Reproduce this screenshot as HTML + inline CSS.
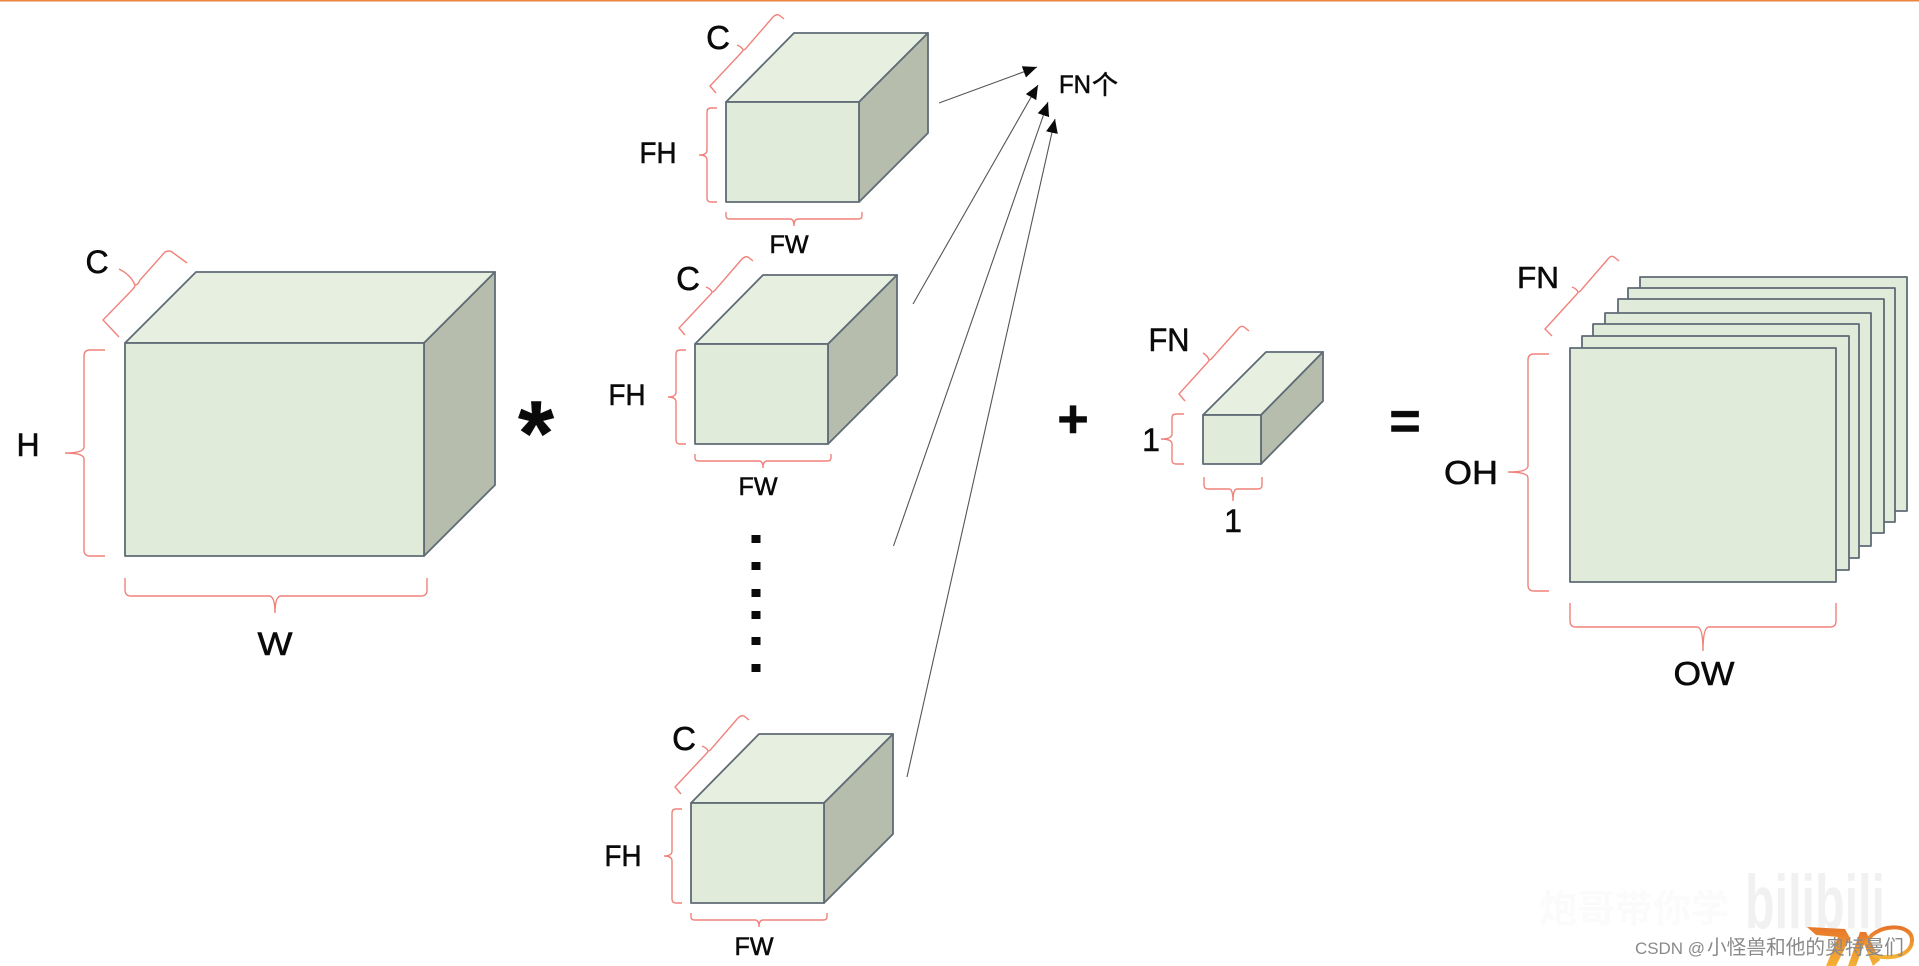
<!DOCTYPE html>
<html><head><meta charset="utf-8"><style>
html,body{margin:0;padding:0;background:#fff;width:1919px;height:966px;overflow:hidden}
svg{display:block;filter:blur(0.35px)}
text{font-family:"Liberation Sans","Noto Sans CJK SC",sans-serif;fill:#0a0a0a;text-anchor:middle;stroke:#0a0a0a;stroke-width:.55}
.b{fill:none;stroke:#f0827b;stroke-width:1.4}
.f{fill:#e0ebd9;stroke:#5f6b76;stroke-width:1.8;stroke-linejoin:round}
.t{fill:#e7efe0;stroke:#5f6b76;stroke-width:1.8;stroke-linejoin:round}
.s{fill:#b6bdac;stroke:#5f6b76;stroke-width:1.8;stroke-linejoin:round}
.a{stroke:#555;stroke-width:1.1;fill:none;marker-end:url(#ah)}
</style></head><body>
<svg width="1919" height="966" viewBox="0 0 1919 966" xmlns="http://www.w3.org/2000/svg">
<defs>
<marker id="ah" markerUnits="userSpaceOnUse" markerWidth="16" markerHeight="14" refX="14" refY="7" orient="auto"><path d="M0 1 L14 7 L0 13 Z" fill="#0a0a0a"/></marker>
<linearGradient id="og" x1="0" y1="0" x2="0" y2="1"><stop offset="0" stop-color="#e8762a"/><stop offset="1" stop-color="#f4b236"/></linearGradient>
<g id="cube">
<polygon class="t" points="726,102 794,33 928,33 859,102"/>
<polygon class="s" points="859,102 928,33 928,133 859,202"/>
<rect class="f" x="726" y="102" width="133" height="100"/>
<path class="b" d="M716 93 L710 86 L741 53 Q743 51 743 50 Q742 47 737 45 M743 50 Q745 50 747 47 L773 17 Q776 14 779 15 L784 19"/>
<path class="b" d="M717 108 H711 Q707 108 707 112 V150 Q707 155 699 155 Q707 155 707 160 V198 Q707 202 711 202 H717"/>
<path class="b" d="M726 212 V216 Q726 219 730 219 H790 Q794 219 794 226 Q794 219 798 219 H858 Q862 219 862 216 V212"/>
</g>
</defs>
<rect width="1919" height="966" fill="#fff"/>
<rect x="0" y="0" width="1919" height="1.5" fill="#e8853f"/>

<!-- big cube -->
<polygon class="t" points="125,343 196,272 495,272 424,343"/>
<polygon class="s" points="424,343 495,272 495,485 424,556"/>
<rect class="f" x="125" y="343" width="299" height="213"/>
<path class="b" d="M105 350 H90 Q84 350 84 356 V447 Q84 453 65 453 Q84 453 84 459 V550 Q84 556 90 556 H105"/>
<path class="b" d="M125 578 V590 Q125 596 131 596 H269 Q275 596 275 613 Q275 596 281 596 H421 Q427 596 427 590 V578"/>
<path class="b" d="M119 337 L103 320 L133 289 Q135 287 135 285 Q131 275 119 269 M135 285 Q138 285 140 280 L165 252 Q169 250 172 252 L187 263"/>
<text x="97" y="273" font-size="32">C</text>
<text x="28" y="456" font-size="32">H</text>
<text x="275" y="655" font-size="32" textLength="35" lengthAdjust="spacingAndGlyphs">W</text>
<text x="536" y="465" font-size="92" font-weight="bold">*</text>

<!-- filter cubes -->
<use href="#cube"/>
<use href="#cube" transform="translate(-31,242)"/>
<use href="#cube" transform="translate(-35,701)"/>
<text x="718" y="49" font-size="33">C</text>
<text x="658" y="163" font-size="30" textLength="37" lengthAdjust="spacingAndGlyphs">FH</text>
<text x="789" y="253" font-size="25" textLength="39" lengthAdjust="spacingAndGlyphs">FW</text>
<text x="688" y="290" font-size="33">C</text>
<text x="627" y="405" font-size="30" textLength="37" lengthAdjust="spacingAndGlyphs">FH</text>
<text x="758" y="495" font-size="25" textLength="39" lengthAdjust="spacingAndGlyphs">FW</text>
<text x="684" y="750" font-size="33">C</text>
<text x="623" y="866" font-size="30" textLength="37" lengthAdjust="spacingAndGlyphs">FH</text>
<text x="754" y="955" font-size="25" textLength="39" lengthAdjust="spacingAndGlyphs">FW</text>

<!-- dots -->
<g fill="#0a0a0a">
<rect x="751.5" y="535" width="9" height="8"/>
<rect x="751.5" y="562" width="9" height="8"/>
<rect x="751.5" y="589" width="9" height="8"/>
<rect x="751.5" y="611" width="9" height="8"/>
<rect x="751.5" y="637" width="9" height="8"/>
<rect x="751.5" y="664" width="9" height="8"/>
</g>

<!-- arrows -->
<line class="a" x1="939" y1="103" x2="1037" y2="67"/>
<line class="a" x1="913" y1="304" x2="1038" y2="85"/>
<line class="a" x1="893.5" y1="546" x2="1048" y2="102"/>
<line class="a" x1="907" y1="777" x2="1055" y2="119"/>
<text x="1059" y="93" font-size="25" style="text-anchor:start" textLength="32" lengthAdjust="spacingAndGlyphs">FN</text>
<text x="1105" y="94" font-size="26">个</text>

<text x="1073" y="437" font-size="54" font-weight="bold">+</text>

<!-- small cube -->
<polygon class="t" points="1203,415 1266,352 1323,352 1261,415"/>
<polygon class="s" points="1261,415 1323,352 1323,401 1261,464"/>
<rect class="f" x="1203" y="415" width="58" height="49"/>
<path class="b" d="M1185 401 L1179 394 L1207 363 Q1209 361 1209 360 Q1208 356 1203 353 M1209 360 Q1211 360 1213 357 L1238 329 Q1241 325 1244 327 L1249 331"/>
<path class="b" d="M1184 414 H1176 Q1172 414 1172 418 V434 Q1172 439 1161 439 Q1172 439 1172 444 V460 Q1172 464 1176 464 H1184"/>
<path class="b" d="M1204 477 V485 Q1204 489 1208 489 H1229 Q1233 489 1233 501 Q1233 489 1237 489 H1258 Q1262 489 1262 485 V477"/>
<text x="1169" y="351" font-size="32" textLength="41" lengthAdjust="spacingAndGlyphs">FN</text>
<text x="1151" y="451" font-size="32">1</text>
<text x="1233" y="532" font-size="32">1</text>

<text x="1405" y="439" font-size="54" font-weight="bold">=</text>

<!-- stack -->
<rect class="f" x="1640" y="277" width="267" height="234"/>
<rect class="f" x="1628" y="288" width="267" height="234"/>
<rect class="f" x="1618" y="299" width="266" height="234"/>
<rect class="f" x="1605" y="313" width="266" height="233"/>
<rect class="f" x="1593" y="324" width="266" height="234"/>
<rect class="f" x="1582" y="336" width="267" height="234"/>
<rect class="f" x="1570" y="348" width="266" height="234"/>
<path class="b" d="M1552 336 L1545 329 L1576 295 Q1578 293 1578 292 Q1577 289 1572 287 M1578 292 Q1580 292 1582 289 L1608 259 Q1611 255 1614 257 L1619 261"/>
<path class="b" d="M1549 354 H1534 Q1528 354 1528 360 V466 Q1528 472 1508 472 Q1528 472 1528 478 V585 Q1528 591 1534 591 H1549"/>
<path class="b" d="M1570 603 V621 Q1570 627 1576 627 H1697 Q1703 627 1703 651 Q1703 627 1709 627 H1830 Q1836 627 1836 621 V603"/>
<text x="1538" y="288" font-size="31" textLength="42" lengthAdjust="spacingAndGlyphs">FN</text>
<text x="1471" y="484" font-size="33" textLength="54" lengthAdjust="spacingAndGlyphs">OH</text>
<text x="1704" y="685" font-size="33" textLength="61" lengthAdjust="spacingAndGlyphs">OW</text>

<!-- watermarks -->
<text x="1634" y="922" font-size="38" font-weight="bold" style="fill:#fbfbfb;stroke:none">炮哥带你学</text>
<text x="1815" y="928" font-size="76" font-weight="bold" textLength="140" lengthAdjust="spacingAndGlyphs" style="fill:#f1f1f1;stroke:none">bilibili</text>
<g>
<path d="M1807 927 L1845 929 L1850 938 L1836 966 L1826 966 L1838 937 L1816 935 Z" fill="url(#og)"/>
<path d="M1848 966 L1860 932 L1866 932 L1880 960 L1873 966 L1864 944 L1856 966 Z" fill="url(#og)"/>
<path d="M1866 944 C1872 924 1913 921 1912 941 C1911 958 1884 961 1868 953" fill="none" stroke="url(#og)" stroke-width="4"/>
</g>
<text x="1635" y="954" style="text-anchor:start;fill:#8a8a8a;stroke:none" font-size="17" textLength="70" lengthAdjust="spacing">CSDN @</text>
<text x="1707" y="954" style="text-anchor:start;fill:#8a8a8a;stroke:none" font-size="19.7">小怪兽和他的奥特曼们</text>
</svg>
</body></html>
